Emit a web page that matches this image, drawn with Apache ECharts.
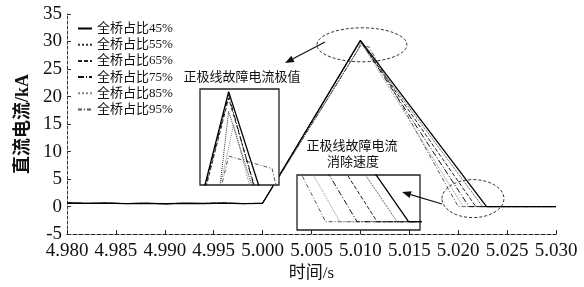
<!DOCTYPE html>
<html><head><meta charset="utf-8">
<script src="https://cdn.jsdelivr.net/npm/echarts@6/dist/echarts.min.js"></script>
<style>html,body{margin:0;padding:0;background:#fff}#c{width:584px;height:287px}</style>
</head><body><div id="c"></div>
<script>
// ---- data ----
const seriesNames = ['全桥占比45%','全桥占比55%','全桥占比65%','全桥占比75%','全桥占比85%','全桥占比95%'];
const xTickLabels = ['4.980','4.985','4.990','4.995','5.000','5.005','5.010','5.015','5.020','5.025','5.030'];
const yTickLabels = ['-5','0','5','10','15','20','25','30','35'];
// pre-fault (shared by all series)
const preTimes  = [4.980,4.982,4.984,4.986,4.988,4.990,4.992,4.994,4.996,4.998,5.000];
const preValues = [0.65,0.58,0.62,0.55,0.6,0.52,0.6,0.56,0.62,0.55,0.6];
// post-fault for each series
const times45  = [5.0100, 5.0229, 5.0300];
const values45 = [30.2, 0, 0];
const times55  = [5.0098, 5.0100, 5.0225, 5.0300];
const values55 = [28.6, 29.9, 0, 0];
const times65  = [5.0100, 5.0218, 5.0300];
const values65 = [30.1, 0, 0];
const times75  = [5.0100, 5.0211, 5.0300];
const values75 = [30.15, 0, 0];
const times85  = [5.0099, 5.0101, 5.0205, 5.0300];
const values85 = [29.0, 29.7, 0, 0];
const times95  = [5.00985, 5.0100, 5.01088, 5.0200, 5.0300];
const values95 = [28.75, 29.22, 29.03, 0, 0];
// ---- build ----
const postTimes = [times45,times55,times65,times75,times85,times95];
const postValues = [values45,values55,values65,values75,values85,values95];
const styles = [
  {color:'#000', width:1.3, type:'solid'},
  {color:'#333', width:1, type:'dotted'},
  {color:'#222', width:1, type:[4,2]},
  {color:'#111', width:1, type:[6,2,1,2]},
  {color:'#888', width:1, type:'dotted'},
  {color:'#555', width:1, type:[4,2,1,2]}
];
function buildData(i){
  const d = preTimes.map((t,k)=>[t,preValues[k]]);
  postTimes[i].forEach((t,k)=>d.push([t,postValues[i][k]]));
  return d;
}
const FONT = '"Liberation Serif","Noto Sans CJK SC",serif';
const order = [5,4,3,2,1,0];
const series = [];
[0,1,2].forEach(g=>{
  order.forEach(i=>{
    series.push({
      name: seriesNames[i], type:'line', data: buildData(i),
      xAxisIndex:g, yAxisIndex:g, symbol:'none', showSymbol:false,
      lineStyle: styles[i], itemStyle:{color:styles[i].color},
      clip:true, animation:false, z: g===0?2:12
    });
  });
});
const chart = echarts.init(document.getElementById('c'), null, {renderer:'canvas'});
const hiddenAxis = {show:false, type:'value', axisLine:{show:false, onZero:false}, splitLine:{show:false}, axisTick:{show:false}, axisLabel:{show:false}};
chart.setOption({
  animation:false,
  backgroundColor:'#fff',
  legend:{
    data: seriesNames, orient:'vertical', left:72, top:17,
    itemWidth:14, itemHeight:12, itemGap:3.2,
    itemStyle:{opacity:0},
    textStyle:{fontFamily:FONT, fontSize:13, color:'#111', lineHeight:12},
    selectedMode:false
  },
  grid:[
    {left:67, right:28, top:14, bottom:50, show:false},
    {left:200, top:89, width:79, height:96, show:true, backgroundColor:'#fff', borderColor:'#222', borderWidth:1.3, z:10},
    {left:297, top:175, width:123, height:55, show:true, backgroundColor:'#fff', borderColor:'#222', borderWidth:1.3, z:10}
  ],
  xAxis:[
    {type:'value', gridIndex:0, position:'bottom', min:4.980, max:5.030, interval:0.005,
     name:'时间/s', nameLocation:'middle', nameGap:25,
     nameTextStyle:{fontFamily:FONT, fontSize:17, color:'#111'},
     axisLine:{show:true, onZero:false, lineStyle:{color:'#222', type:[4,2], width:1.2}},
     axisTick:{show:true, inside:true, length:4, lineStyle:{color:'#222'}},
     splitLine:{show:false},
     axisLabel:{fontFamily:FONT, fontSize:19, color:'#111', margin:7,
       formatter:(v)=>{const i=Math.round((v-4.980)/0.005);return xTickLabels[i]||'';}}},
    Object.assign({gridIndex:1, min:5.00942, max:5.01102}, hiddenAxis),
    Object.assign({gridIndex:2, min:5.0190, max:5.0233}, hiddenAxis)
  ],
  yAxis:[
    {type:'value', gridIndex:0, position:'left', min:-5, max:35, interval:5,
     name:'直流电流/kA', nameLocation:'middle', nameGap:34,
     nameTextStyle:{fontFamily:FONT, fontSize:18, fontWeight:'bold', color:'#111'},
     axisLine:{show:true, onZero:false, lineStyle:{color:'#333', type:[3,2], width:1}},
     axisTick:{show:true, inside:true, length:4, lineStyle:{color:'#333'}},
     splitLine:{show:false},
     axisLabel:{fontFamily:FONT, fontSize:19, color:'#111', margin:5,
       formatter:(v)=>{const i=Math.round((v+5)/5);return yTickLabels[i]||'';}}},
    Object.assign({gridIndex:1, min:28.78, max:30.24}, hiddenAxis),
    Object.assign({gridIndex:2, min:-0.47, max:2.65}, hiddenAxis)
  ],
  series: series
});
// annotations
const c1 = chart.convertToPixel({gridIndex:0}, [5.01016, 29.4]);
const c2 = chart.convertToPixel({gridIndex:0}, [5.02151, 1.45]);
function arrow(x1,y1,x2,y2){
  const a = Math.atan2(y2-y1,x2-x1), L=9, W=3.5;
  const bx = x2-L*Math.cos(a), by = y2-L*Math.sin(a);
  return [
    {type:'line', shape:{x1:x1,y1:y1,x2:bx,y2:by}, style:{stroke:'#111', lineWidth:1.2}, z:20},
    {type:'polygon', shape:{points:[[x2,y2],[bx-W*Math.sin(a),by+W*Math.cos(a)],[bx+W*Math.sin(a),by-W*Math.cos(a)]]}, style:{fill:'#111'}, z:20}
  ];
}
const txt = (x,y,s)=>({type:'text', x:x, y:y, z:20, style:{text:s, fontFamily:FONT, fontSize:13, fill:'#111', align:'center', verticalAlign:'middle'}});
chart.setOption({graphic:[
  {type:'ellipse', shape:{cx:c1[0], cy:c1[1], rx:45, ry:17}, style:{fill:null, stroke:'#333', lineWidth:1, lineDash:[3,2]}, z:20},
  {type:'ellipse', shape:{cx:c2[0], cy:c2[1], rx:31, ry:19}, style:{fill:null, stroke:'#333', lineWidth:1, lineDash:[3,2]}, z:20},
  ...arrow(325,42,285,63),
  ...arrow(442,204,402,192),
  txt(242,78,'正极线故障电流极值'),
  txt(352,147,'正极线故障电流'),
  txt(353,163,'消除速度')
]});
</script></body></html>
